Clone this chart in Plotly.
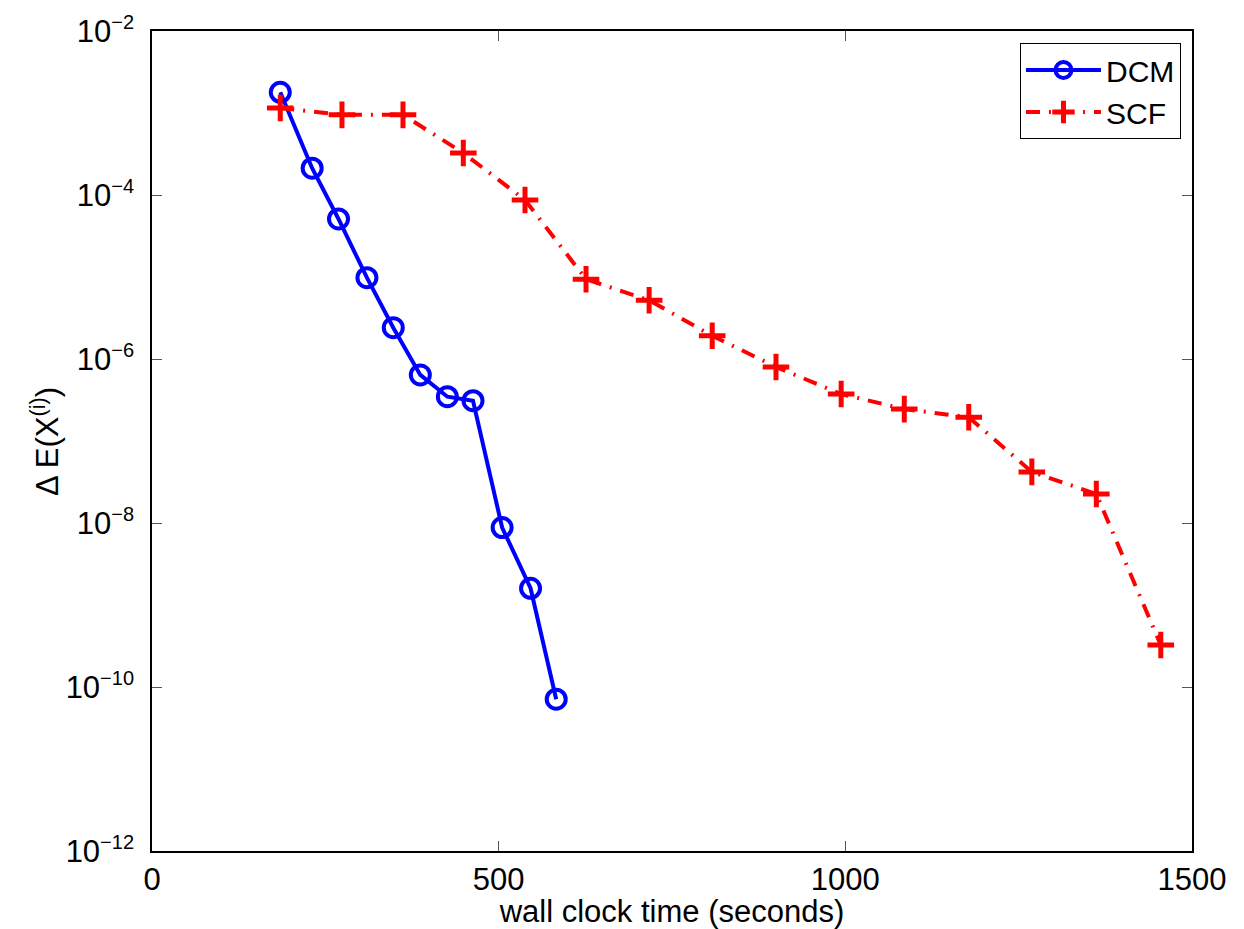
import plotly.graph_objects as go

# DCM series
dcm_time = [185, 231, 269, 310, 348, 387, 426, 463, 505, 546, 583]
dcm_err = [1.79e-3, 2.12e-4, 5.1e-5, 9.8e-6, 2.41e-6, 6.4e-7, 3.47e-7, 3.1e-7, 8.8e-9, 1.6e-9, 7.1e-11]

# SCF series
scf_time = [185, 274, 362, 449, 538, 626, 717, 808, 900, 994, 1085, 1178, 1269, 1362, 1455]
scf_err = [1.15e-3, 9.5e-4, 9.5e-4, 3.25e-4, 8.7e-5, 9.4e-6, 5.2e-6, 1.92e-6, 8.0e-7,
           3.74e-7, 2.45e-7, 1.95e-7, 4.2e-8, 2.26e-8, 3.25e-10]

x_ticks = [0, 500, 1000, 1500]
y_exponents = [-12, -10, -8, -6, -4, -2]

FONT = "Liberation Sans, Arial, Helvetica, sans-serif"

y_tickvals = [10.0 ** e for e in y_exponents]
y_ticktext = ["10<sup><span style='font-size:20px'>\u2212%d</span></sup>" % (-e) for e in y_exponents]

fig = go.Figure()
fig.add_trace(go.Scatter(
    x=dcm_time, y=dcm_err, name="DCM", mode="lines+markers",
    line=dict(color="#0000FF", width=4),
    marker=dict(symbol="circle-open", size=19, color="#0000FF",
                line=dict(width=4, color="#0000FF")),
))
fig.add_trace(go.Scatter(
    x=scf_time, y=scf_err, name="SCF", mode="lines+markers",
    line=dict(color="#FF0000", width=4, dash="14px,9px,2px,9px"),
    marker=dict(symbol="cross-thin", size=19, color="#FF0000",
                line=dict(width=5, color="#FF0000")),
))

fig.update_layout(
    width=1244, height=929,
    margin=dict(l=152, r=52, t=31, b=78, autoexpand=False),
    paper_bgcolor="white", plot_bgcolor="white",
    font=dict(family=FONT, size=30, color="black"),
    showlegend=True,
    legend=dict(
        x=0.9894, y=0.9854, xanchor="right", yanchor="top",
        bordercolor="black", borderwidth=1, bgcolor="white",
        font=dict(size=30), tracegroupgap=0, itemwidth=75,
    ),
    annotations=[dict(
        text="Δ E(X<sup>(i)</sup>)", textangle=-90,
        xref="paper", yref="paper", x=-0.103, y=0.5,
        xanchor="center", yanchor="middle", showarrow=False,
        font=dict(size=31),
    )],
)
fig.update_xaxes(
    range=[0, 1500], tickvals=x_ticks, ticktext=[str(v) for v in x_ticks],
    showgrid=False, zeroline=False, automargin=False,
    showline=True, linecolor="black", linewidth=1.5, mirror="ticks",
    ticks="inside", ticklen=10, tickcolor="#555555", tickwidth=1,
    tickfont=dict(size=31),
    title=dict(text="wall clock time (seconds)", standoff=12, font=dict(size=31)),
    ticklabelstandoff=0,
)
fig.update_yaxes(
    type="log", range=[-12, -2], tickvals=y_tickvals, ticktext=y_ticktext,
    showgrid=False, zeroline=False, automargin=False,
    showline=True, linecolor="black", linewidth=1.5, mirror="ticks",
    ticks="inside", ticklen=10, tickcolor="#555555", tickwidth=1,
    tickfont=dict(size=31),
    ticklabelstandoff=10,
)

fig.write_html("out.html")
